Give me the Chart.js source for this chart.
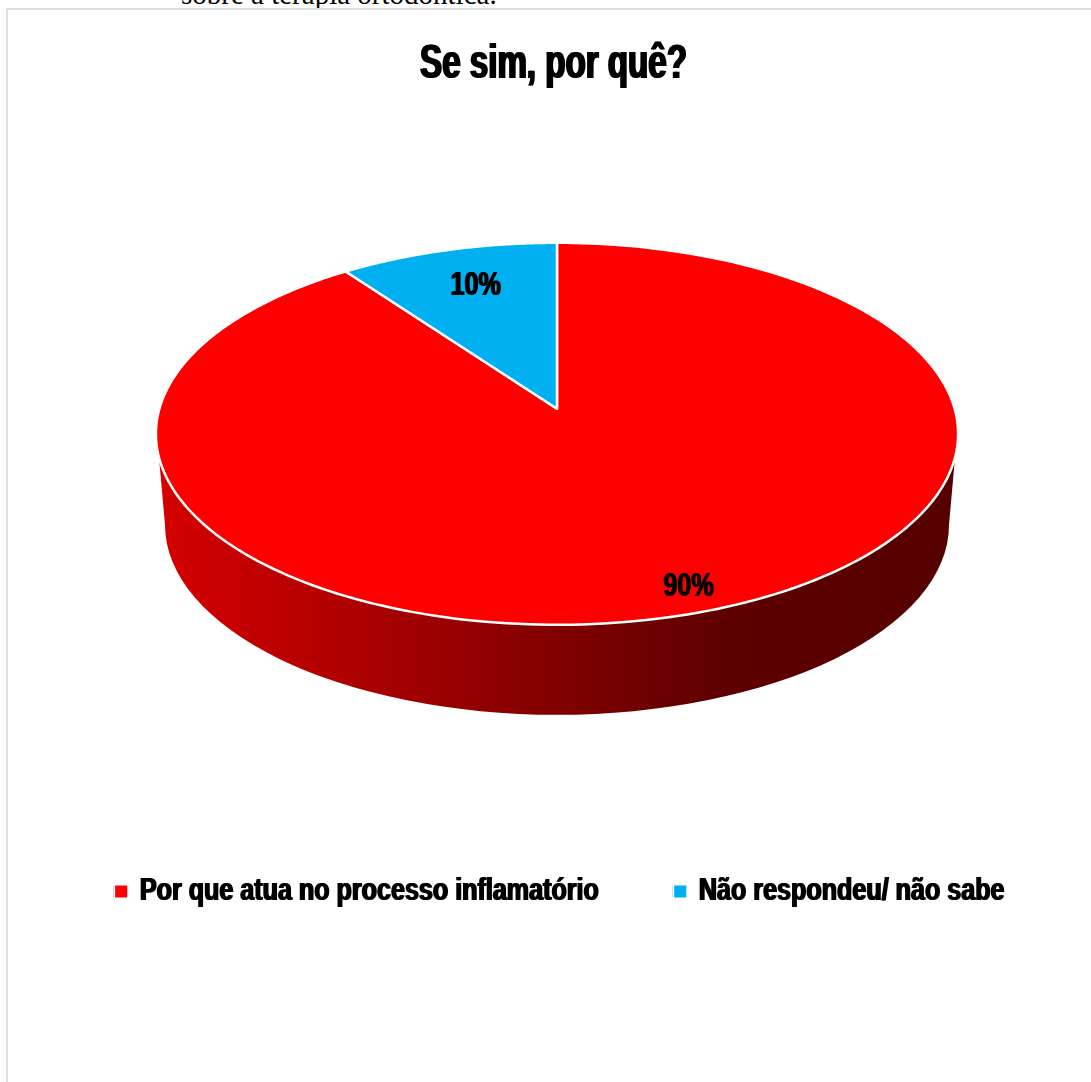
<!DOCTYPE html>
<html>
<head>
<meta charset="utf-8">
<title>Se sim, por quê?</title>
<script src="https://cdn.jsdelivr.net/npm/chart.js@4"></script>
<style>
    html, body { margin: 0; height: 100%; background: #fff; overflow: hidden; }
    #caption {
        position: absolute; left: 181px; top: -22px; white-space: nowrap;
        font: 29px "Liberation Serif", serif; color: #000;
    }
    #frame {
        position: absolute; left: 6px; top: 8px; width: 1200px; height: 1200px;
        border: 2px solid #e0e0e0; background: #fff; overflow: hidden;
    }
    #chart { position: absolute; left: -151px; top: 0; }
</style>
</head>
<body>
<div id="caption">sobre a terapia ortodôntica.</div>
<div id="frame"><canvas id="chart" width="1400" height="1072"></canvas></div>
<script>
const titleText = 'Se sim, por quê?';
const categories = ['Por que atua no processo inflamatório', 'Não respondeu/ não sabe'];
const percentages = [90, 10];
const sliceColors = ['#ff0000', '#00b0f0'];

const fontName = '"Liberation Sans", sans-serif';

// the tilted disc: a circle seen in perspective, radius = vertical half axis
const stretchX = 2.1;
const tilt = 0.131;
// where the percentages sit: share of the radius, then a small pixel nudge
const labelRadius = [0.9, 0.76];
const labelNudge = [[7, -3], [4, 1]];

function project(el, r, angle) {
    const u = r * Math.cos(angle), v = r * Math.sin(angle);
    const d = 1 - tilt * v;
    return {
        x: el.x + el.outerRadius * stretchX * Math.sqrt(1 - tilt * tilt) * u / d,
        y: el.y + el.outerRadius * (v - tilt) / d
    };
}

function drawWall(ctx, el) {
    const grad = ctx.createLinearGradient(el.x - 400, 0, el.x + 403, 0);
    grad.addColorStop(0, '#d60000');
    grad.addColorStop(0.7, '#5f0000');
    grad.addColorStop(1, '#550000');
    ctx.beginPath();
    ctx.moveTo(el.x + 398, el.y + 24);
    ctx.lineTo(el.x + 392, el.y + 91);
    ctx.ellipse(el.x, el.y + 91, 392, 190, 0, 0, Math.PI);
    ctx.lineTo(el.x - 398, el.y + 24);
    ctx.closePath();
    ctx.fillStyle = grad;
    ctx.fill();
}

function drawSlice(ctx, el, color) {
    const steps = 240;
    const apex = project(el, 0, 0);
    ctx.beginPath();
    ctx.moveTo(apex.x, apex.y);
    for (let i = 0; i <= steps; i++) {
        const a = el.startAngle + (el.endAngle - el.startAngle) * i / steps;
        const p = project(el, 1, a);
        ctx.lineTo(p.x, p.y);
    }
    ctx.closePath();
    ctx.fillStyle = color;
    ctx.fill();
    ctx.strokeStyle = '#fff';
    ctx.lineWidth = 2.5;
    ctx.lineJoin = 'round';
    ctx.stroke();
}

// No condensed heavy face is installed, so squeeze the box and draw it twice
function condense(box, kx, smear) {
    const draw = box.draw.bind(box);
    box.draw = function(area) {
        const ctx = box.ctx;
        const cx = (box.left + box.right) / 2;
        [-smear, smear].forEach(dx => {
            ctx.save();
            ctx.translate(cx + dx, 0);
            ctx.scale(kx, 1);
            ctx.translate(-cx, 0);
            draw(area);
            ctx.restore();
        });
    };
}

const tiltedPie = {
    id: 'tiltedPie',
    afterLayout(chart) {
        // title and legend are not centred on the disc
        chart.titleBlock.left -= 3.5;
        chart.titleBlock.right -= 3.5;
        chart.legend.left += 2;
        chart.legend.right += 2;
        chart.legend.top += 21;
        chart.legend.bottom += 21;
        condense(chart.titleBlock, 0.69, 1);
        condense(chart.legend, 0.81, 0.8);
    },
    beforeDatasetDraw(chart, args) {
        const ctx = chart.ctx;
        const arcs = args.meta.data;
        ctx.save();
        drawWall(ctx, arcs[0]);
        arcs.forEach((el, i) => drawSlice(ctx, el, sliceColors[i]));
        ctx.restore();
        return false;
    },
    afterDatasetsDraw(chart) {
        const ctx = chart.ctx;
        const arcs = chart.getDatasetMeta(0).data;
        arcs.forEach((el, i) => {
            const p = project(el, labelRadius[i], (el.startAngle + el.endAngle) / 2);
            [-0.7, 0.7].forEach(dx => {
                ctx.save();
                ctx.translate(p.x + labelNudge[i][0] + dx, p.y + labelNudge[i][1]);
                ctx.scale(0.74, 1);
                ctx.font = 'bold 34px ' + fontName;
                ctx.fillStyle = '#000';
                ctx.textAlign = 'center';
                ctx.textBaseline = 'middle';
                ctx.fillText(percentages[i] + '%', 0, 0);
                ctx.restore();
            });
        });
    }
};

new Chart(document.getElementById('chart').getContext('2d'), {
    type: 'pie',
    data: {
        labels: categories,
        datasets: [{
            data: percentages,
            backgroundColor: sliceColors,
            radius: 191
        }]
    },
    options: {
        responsive: false,
        animation: false,
        layout: { padding: { bottom: 186 } },
        plugins: {
            tooltip: { enabled: false },
            title: {
                display: true,
                text: titleText,
                color: '#000',
                font: { family: fontName, size: 48, weight: 'bold' },
                padding: { top: 26, bottom: 10 }
            },
            legend: {
                position: 'bottom',
                labels: {
                    boxWidth: 17,
                    boxHeight: 14,
                    padding: 91,
                    color: '#000',
                    font: { family: fontName, size: 31, weight: 'bold' }
                }
            }
        }
    },
    plugins: [tiltedPie]
});
</script>
</body>
</html>
